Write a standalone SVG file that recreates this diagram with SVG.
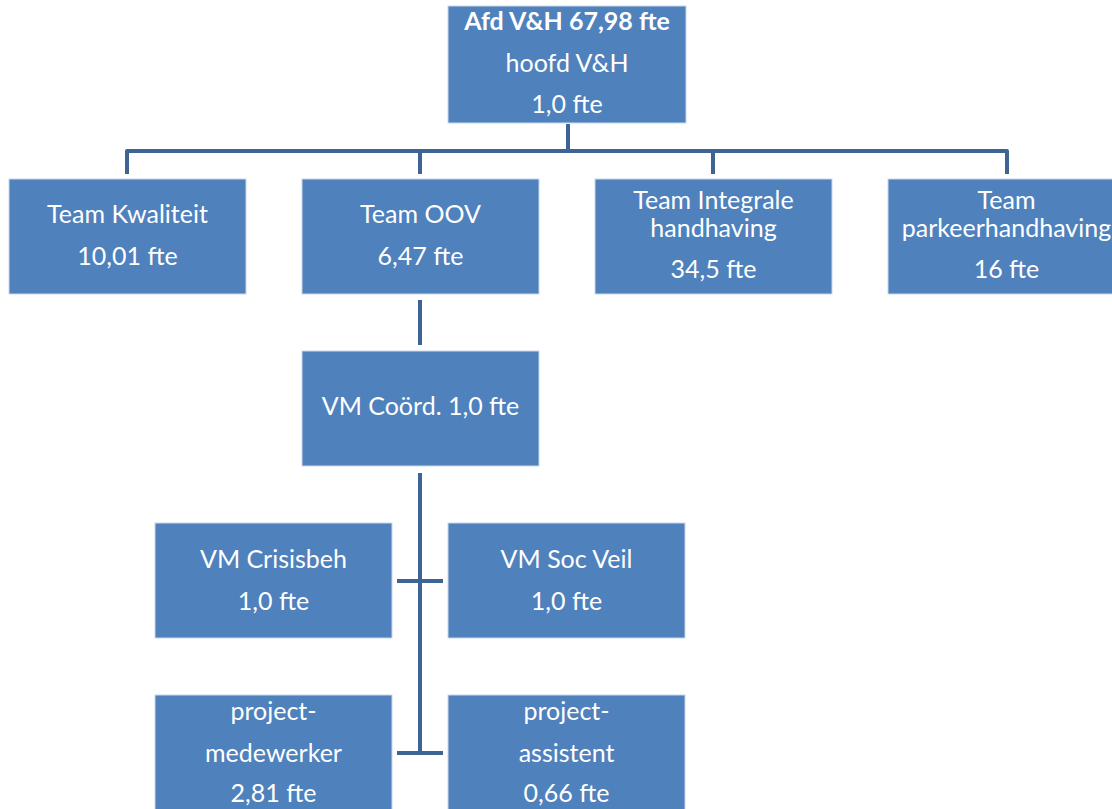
<svg xmlns="http://www.w3.org/2000/svg" width="1112" height="809" viewBox="0 0 1112 809">
  <style>
    .box { fill: #4F81BD; stroke: #C9D7EA; stroke-width: 1; }
    .lbl { font-family: Lato, "Open Sans", sans-serif; font-size: 25px; fill: #FFFFFF; text-anchor: middle; }
    .bold { font-weight: bold; }
    .conn { fill: none; stroke: #3D6494; stroke-width: 4; stroke-linejoin: round; }
  </style>
  <rect width="1112" height="809" fill="#FFFFFF"/>

  <!-- connectors -->
  <g id="connectors">
    <path class="conn" d="M568 124 V151"/>
    <path class="conn" d="M127 174 V151 H1007 V174"/>
    <path class="conn" d="M420 151 V174"/>
    <path class="conn" d="M713 151 V174"/>
    <path class="conn" d="M420 300 V345"/>
    <path class="conn" d="M420 473 V753"/>
    <path class="conn" d="M397 581 H443"/>
    <path class="conn" d="M397 753 H443"/>
  </g>

  <g id="afd-vh">
    <rect class="box" x="448" y="6" width="238" height="117"/>
    <text class="lbl bold" x="567" y="30">Afd V&amp;H 67,98 fte</text>
    <text class="lbl" x="567" y="72">hoofd V&amp;H</text>
    <text class="lbl" x="567" y="113">1,0 fte</text>
  </g>

  <g id="team-kwaliteit">
    <rect class="box" x="9" y="179" width="237" height="115"/>
    <text class="lbl" x="127.5" y="223">Team Kwaliteit</text>
    <text class="lbl" x="127.5" y="265">10,01 fte</text>
  </g>

  <g id="team-oov">
    <rect class="box" x="302" y="179" width="237" height="115"/>
    <text class="lbl" x="420.5" y="223">Team OOV</text>
    <text class="lbl" x="420.5" y="265">6,47 fte</text>
  </g>

  <g id="team-integrale">
    <rect class="box" x="595" y="179" width="237" height="115"/>
    <text class="lbl" x="713.5" y="209">Team Integrale</text>
    <text class="lbl" x="713.5" y="237">handhaving</text>
    <text class="lbl" x="713.5" y="278">34,5 fte</text>
  </g>

  <g id="team-parkeer">
    <rect class="box" x="888" y="179" width="237" height="115"/>
    <text class="lbl" x="1006.5" y="209">Team</text>
    <text class="lbl" x="1006.5" y="237">parkeerhandhaving</text>
    <text class="lbl" x="1006.5" y="278">16 fte</text>
  </g>

  <g id="vm-coord">
    <rect class="box" x="302" y="351" width="237" height="115"/>
    <text class="lbl" x="420.5" y="415">VM Coörd. 1,0 fte</text>
  </g>

  <g id="vm-crisisbeh">
    <rect class="box" x="155" y="523" width="237" height="115"/>
    <text class="lbl" x="273.5" y="568">VM Crisisbeh</text>
    <text class="lbl" x="273.5" y="610">1,0 fte</text>
  </g>

  <g id="vm-soc-veil">
    <rect class="box" x="448" y="523" width="237" height="115"/>
    <text class="lbl" x="566.5" y="568">VM Soc Veil</text>
    <text class="lbl" x="566.5" y="610">1,0 fte</text>
  </g>

  <g id="project-medewerker">
    <rect class="box" x="155" y="695" width="237" height="120"/>
    <text class="lbl" x="273.5" y="720">project-</text>
    <text class="lbl" x="273.5" y="762">medewerker</text>
    <text class="lbl" x="273.5" y="802">2,81 fte</text>
  </g>

  <g id="project-assistent">
    <rect class="box" x="448" y="695" width="237" height="120"/>
    <text class="lbl" x="566.5" y="720">project-</text>
    <text class="lbl" x="566.5" y="762">assistent</text>
    <text class="lbl" x="566.5" y="802">0,66 fte</text>
  </g>
</svg>
